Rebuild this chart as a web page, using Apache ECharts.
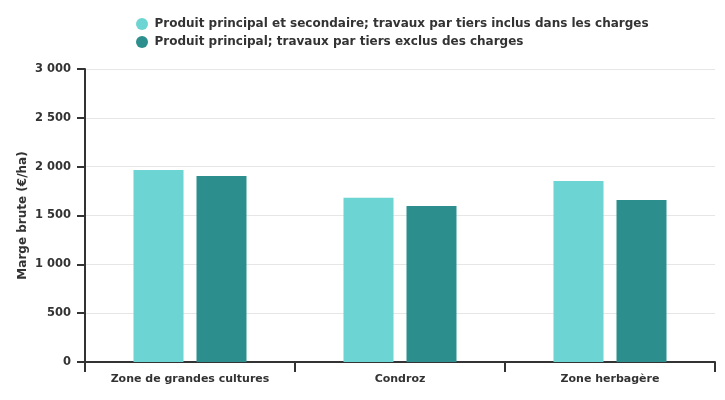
<!DOCTYPE html>
<html><head><meta charset="utf-8">
<script src="https://cdn.jsdelivr.net/npm/echarts@6/dist/echarts.min.js"></script>
<style>html,body{margin:0;padding:0;background:#fff}#c{width:725px;height:400px}</style>
</head><body><div id="c"></div>
<script>
const categories = ["Zone de grandes cultures", "Condroz", "Zone herbagère"];
const seriesNames = ["Produit principal et secondaire; travaux par tiers inclus dans les charges", "Produit principal; travaux par tiers exclus des charges"];
const valuesA = [1965, 1682, 1853];
const valuesB = [1904, 1597, 1659];
const colors = ["#6cd4d2", "#2d8f8d"];
const font = "DejaVu Sans";
const chart = echarts.init(document.getElementById('c'));
chart.setOption({
  animation: false,
  textStyle: {fontFamily: font},
  legend: {
    orient: 'vertical', left: 131, top: 13, itemGap: 6,
    icon: 'circle', itemWidth: 15, itemHeight: 12,
    textStyle: {fontFamily: font, fontWeight: 'bold', fontSize: 12, color: '#333'},
    data: seriesNames
  },
  grid: {left: 85, right: 10, top: 69, bottom: 38, containLabel: false},
  xAxis: {
    type: 'category', data: categories,
    axisLine: {lineStyle: {color: '#333', width: 2}},
    axisTick: {show: true, length: 10, lineStyle: {color: '#333', width: 2}},
    axisLabel: {fontFamily: font, fontWeight: 'bold', fontSize: 11, color: '#333', margin: 12}
  },
  yAxis: {
    type: 'value', min: 0, max: 3000, interval: 500,
    name: 'Marge brute (€/ha)', nameLocation: 'middle', nameGap: 56, nameMoveOverlap: false,
    nameTextStyle: {fontFamily: font, fontWeight: 'bold', fontSize: 12, color: '#333'},
    axisLine: {show: true, lineStyle: {color: '#333', width: 2}},
    axisTick: {show: true, length: 8, lineStyle: {color: '#333', width: 2}},
    splitLine: {lineStyle: {color: '#e6e6e6'}},
    axisLabel: {fontFamily: font, fontWeight: 'bold', fontSize: 11.5, color: '#333', margin: 14,
      formatter: v => String(v).replace(/\B(?=(\d{3})+(?!\d))/g, ' ')}
  },
  series: [
    {name: seriesNames[0], type: 'bar', data: valuesA, itemStyle: {color: colors[0]}, barWidth: 50, barGap: '26%'},
    {name: seriesNames[1], type: 'bar', data: valuesB, itemStyle: {color: colors[1]}, barWidth: 50, barGap: '26%'}
  ]
});
</script></body></html>
